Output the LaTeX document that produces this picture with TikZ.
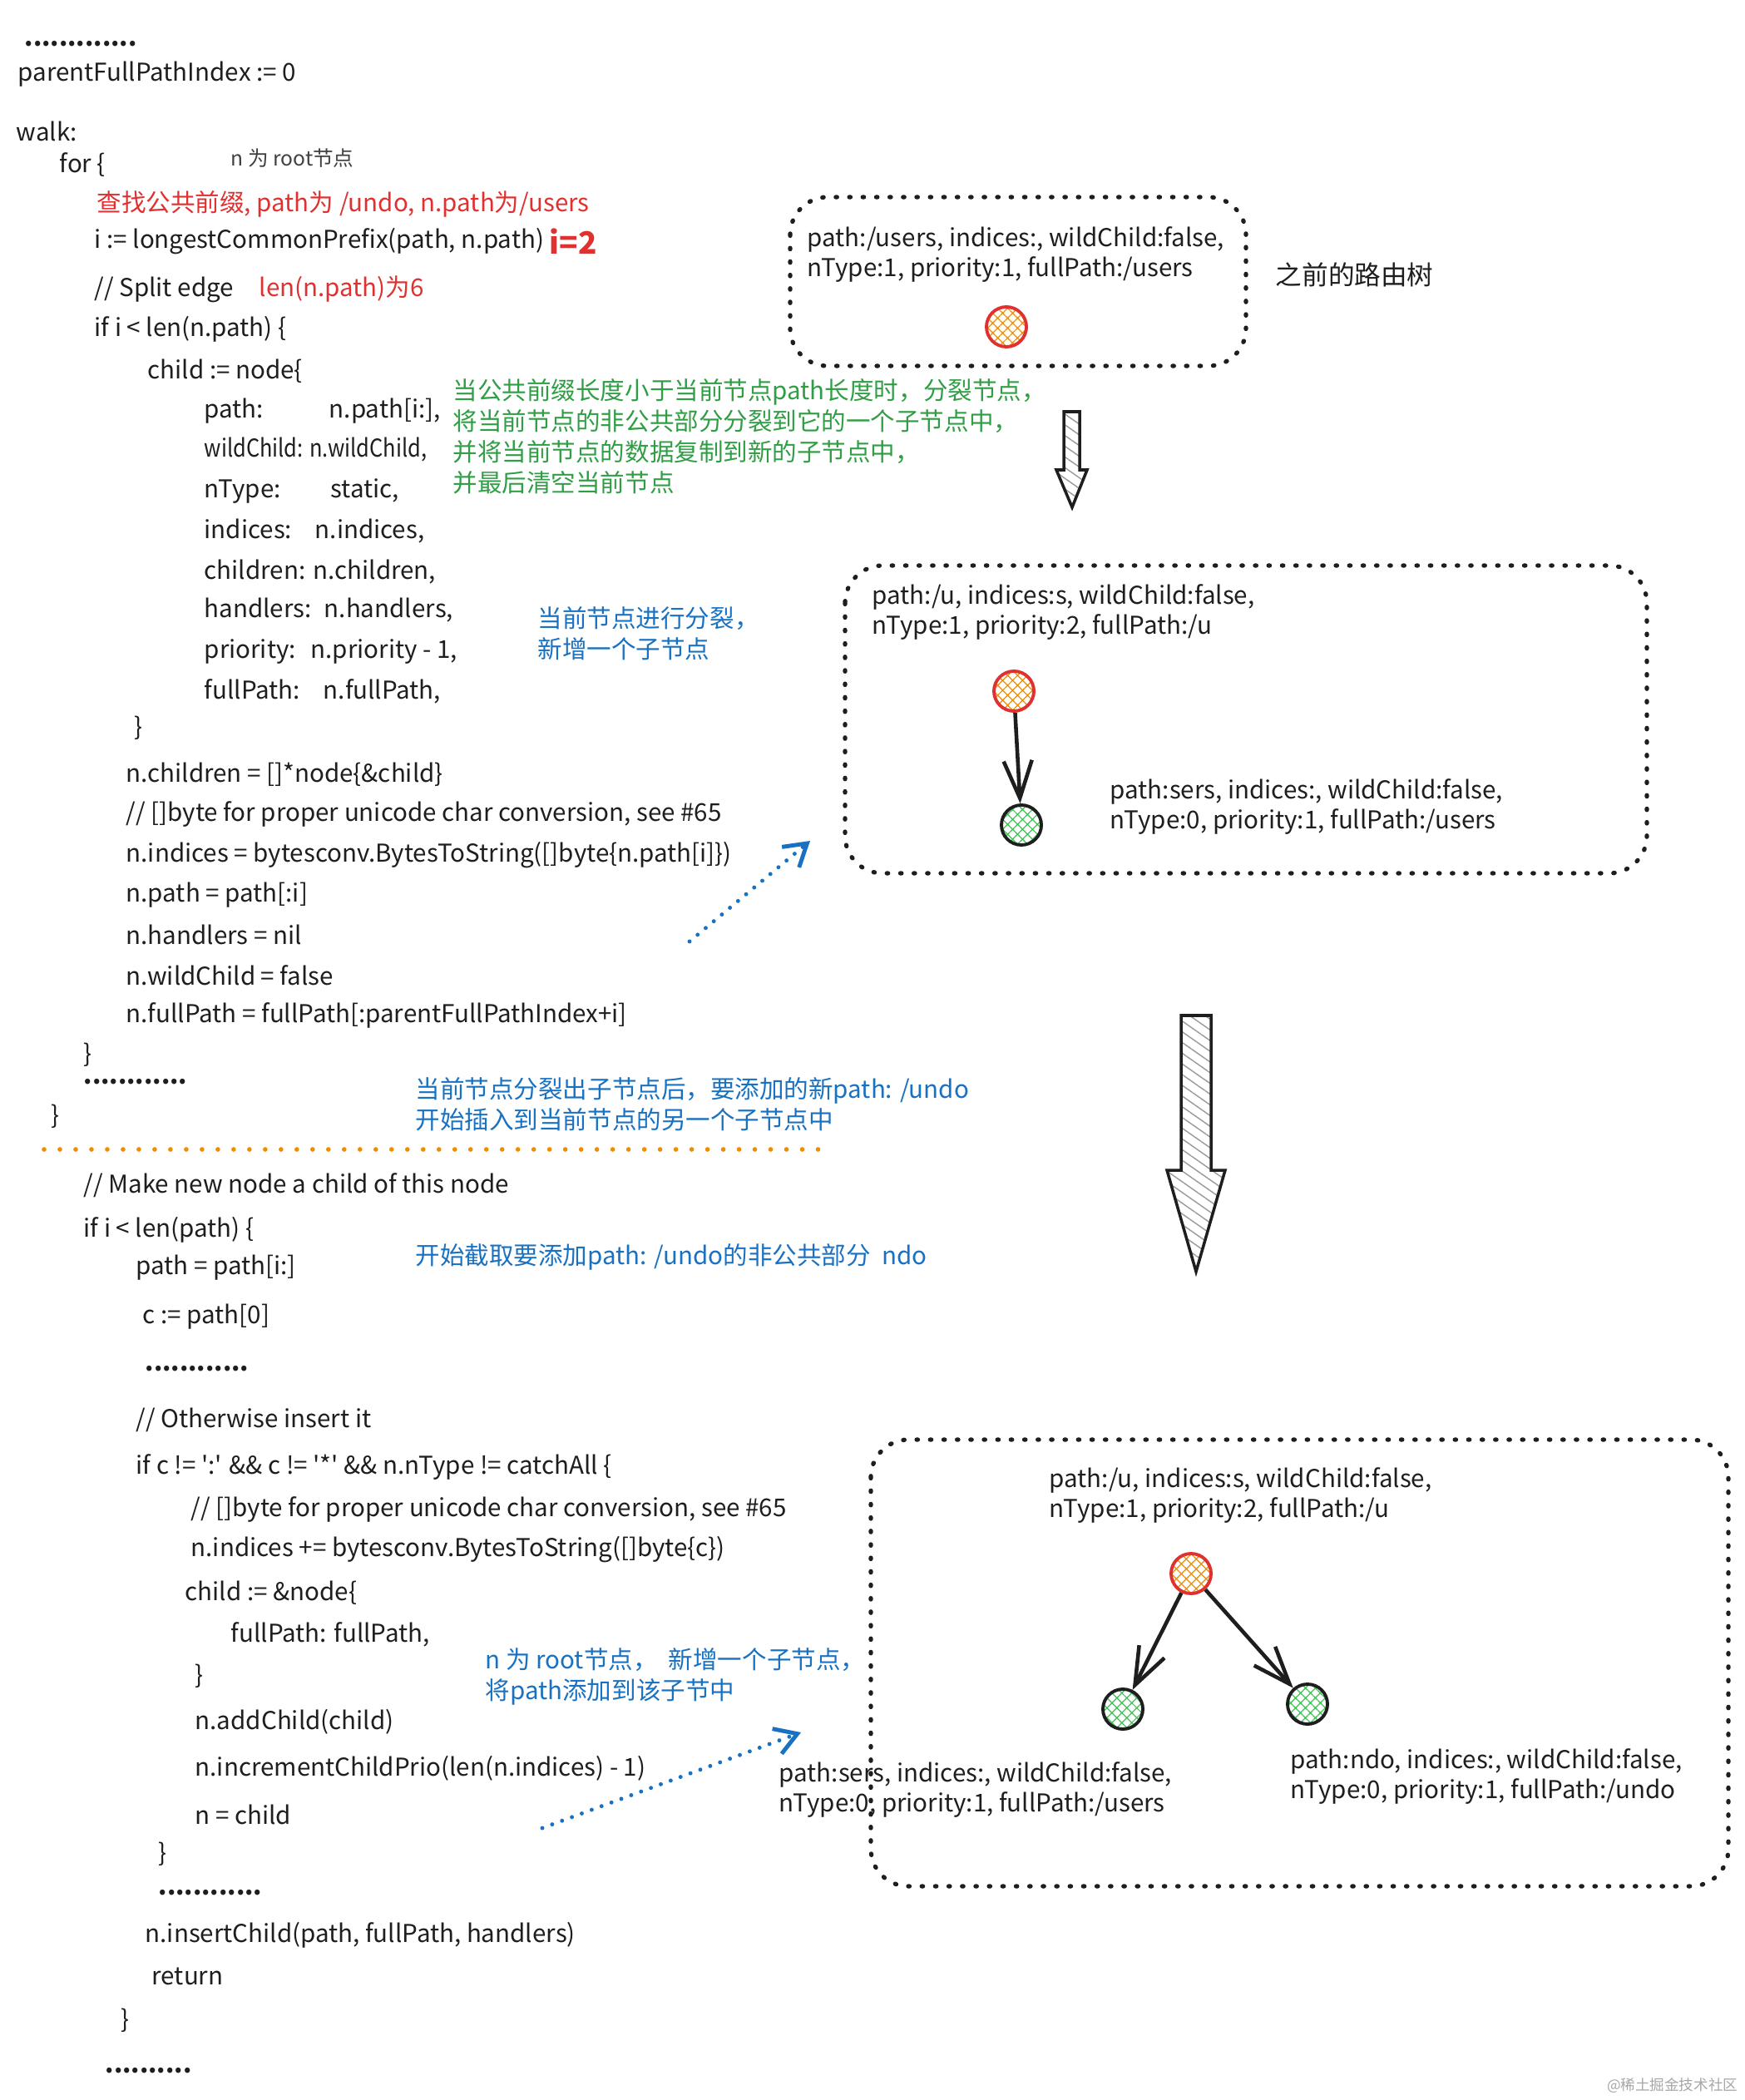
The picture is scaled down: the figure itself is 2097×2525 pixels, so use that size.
\documentclass[tikz,border=0pt]{standalone}
\usepackage{fontspec}
\usepackage{graphicx}
\setmainfont{Noto Sans CJK SC}
\usetikzlibrary{arrows.meta,patterns.meta,positioning}
\definecolor{exred}{HTML}{E03131}
\definecolor{exgreen}{HTML}{2F9E44}
\definecolor{exblue}{HTML}{1971C2}
\definecolor{exorange}{HTML}{F08C00}
\definecolor{exink}{HTML}{1E1E1E}
\definecolor{leafgreen}{HTML}{40C057}
\newcommand{\handfont}{\fontsize{8.4pt}{10.5pt}\selectfont}
\tikzset{
    code/.style={anchor=west, inner sep=0pt, font=\handfont, text=exink},
    note/.style={anchor=west, inner sep=0pt, font=\handfont, align=left},
    codedots/.style={code, font=\handfont\bfseries},
    treebox/.style={draw=exink, line width=1.5pt, dash pattern=on 0.4pt off 4.2pt,
        line cap=round, rounded corners=0.45cm},
    rootnode/.style={circle, draw=exred, line width=1.1pt, minimum size=0.48cm, inner sep=0pt,
        pattern={Hatch[angle=45,distance=2.4pt,line width=0.35pt]}, pattern color=exorange},
    leafnode/.style={circle, draw=exink, line width=1.1pt, minimum size=0.48cm, inner sep=0pt,
        pattern={Hatch[angle=45,distance=2.4pt,line width=0.35pt]}, pattern color=leafgreen},
    treeedge/.style={-{Straight Barb[length=4.5mm,width=3.4mm]}, line width=1.3pt, draw=exink},
    noteflow/.style={-{Straight Barb[length=2.6mm,width=3.2mm]}, draw=exblue, line width=1.4pt,
        dash pattern=on 0pt off 3.6pt, line cap=round},
    separator/.style={draw=exorange, line width=1.6pt, dash pattern=on 0pt off 5.4pt, line cap=round},
    bigarrow/.style={draw=exink, line width=1pt, line join=miter,
        pattern={Lines[angle=-35,distance=3pt,line width=0.4pt]}, pattern color=gray!80}
}

\begin{document}
\begin{tikzpicture}[x=0.01cm, y=-0.01cm]
    \useasboundingbox (0,0) rectangle (2097,2525);
    \fill[white] (0,0) rectangle (2097,2525);

    % code, first part
    \node[codedots] (dotsa) at (29,53) {.............};
    \node[code] (pfpi) at (21,89) {parentFullPathIndex := 0};
    \node[code] (walk) at (19,158) {walk:};
    \node[code] (forloop) at (71,198) {for \{};
    \node[code, font=\fontsize{7pt}{8pt}\selectfont, text=exink!85] (rootnote) at (277,190) {n 为 root节点};
    \node[note, text=exred] (prefixnote) at (116,245) {查找公共前缀, path为 /undo, n.path为/users};
    \node[code] (lcp) at (113,290) {i := longestCommonPrefix(path, n.path)};
    \node[note, text=exred, font=\fontsize{10.5pt}{12pt}\selectfont\bfseries] (itwo) at (660,290) {i=2};
    \node[code] (splitedge) at (113,348) {// Split edge};
    \node[note, text=exred] (lennote) at (311,348) {len(n.path)为6};
    \node[code] (ifsplit) at (113,396) {if i < len(n.path) \{};
    \node[code] (childnode) at (177,446) {child := node\{};
    \node[code] (fpath) at (245,494) {\makebox[1.5cm][l]{path:}n.path[i:],};
    \node[code] (fwild) at (245,541) {\scalebox{0.86}[1]{wildChild: n.wildChild,}};
    \node[code] (ftype) at (245,591) {\makebox[1.52cm][l]{nType:}static,};
    \node[code] (findices) at (245,639) {\makebox[1.33cm][l]{indices:}n.indices,};
    \node[code] (fchildren) at (245,688) {\makebox[1.31cm][l]{children:}n.children,};
    \node[code] (fhandlers) at (245,734) {\makebox[1.44cm][l]{handlers:}n.handlers,};
    \node[code] (fpriority) at (245,784) {\makebox[1.28cm][l]{priority:}n.priority - 1,};
    \node[code] (ffull) at (245,831) {\makebox[1.43cm][l]{fullPath:}n.fullPath,};
    \node[code] (childend) at (161,875) {\}};
    \node[code] (setchildren) at (151,931) {n.children = []*node\{\&child\}};
    \node[code] (bytenote) at (151,979) {// []byte for proper unicode char conversion, see \#65};
    \node[code] (setindices) at (151,1028) {n.indices = bytesconv.BytesToString([]byte\{n.path[i]\})};
    \node[code] (setpath) at (151,1076) {n.path = path[:i]};
    \node[code] (sethandlers) at (151,1124) {n.handlers = nil};
    \node[code] (setwild) at (151,1173) {n.wildChild = false};
    \node[code] (setfull) at (151,1221) {n.fullPath = fullPath[:parentFullPathIndex+i]};
    \node[code] (ifsplitend) at (100,1268) {\}};
    \node[codedots] (dotsb) at (100,1301) {............};
    \node[code] (forend) at (61,1342) {\}};

    % separator
    \coordinate (sepstart) at (53,1382);
    \coordinate (sepend) at (994,1382);
    \draw[separator] (sepstart) -- (sepend);

    % code, second part
    \node[code] (makenew) at (100,1425) {// Make new node a child of this node};
    \node[code] (ifinsert) at (100,1479) {if i < len(path) \{};
    \node[code] (cutpath) at (163,1524) {path = path[i:]};
    \node[code] (firstc) at (171,1583) {c := path[0]};
    \node[codedots] (dotsc) at (174,1646) {............};
    \node[code] (otherwise) at (163,1707) {// Otherwise insert it};
    \node[code] (ifstatic) at (163,1764) {if c != \textquotesingle:\textquotesingle{} \&\& c != \textquotesingle*\textquotesingle{} \&\& n.nType != catchAll \{};
    \node[code] (bytenoteb) at (229,1815) {// []byte for proper unicode char conversion, see \#65};
    \node[code] (addindices) at (229,1863) {n.indices += bytesconv.BytesToString([]byte\{c\})};
    \node[code] (newchild) at (222,1915) {child := \&node\{};
    \node[code] (newfull) at (277,1965) {fullPath: fullPath,};
    \node[code] (newchildend) at (234,2015) {\}};
    \node[code] (addchild) at (234,2070) {n.addChild(child)};
    \node[code] (incprio) at (234,2126) {n.incrementChildPrio(len(n.indices) - 1)};
    \node[code] (nchild) at (234,2182) {n = child};
    \node[code] (ifstaticend) at (190,2229) {\}};
    \node[codedots] (dotsd) at (190,2276) {............};
    \node[code] (insertchild) at (174,2327) {n.insertChild(path, fullPath, handlers)};
    \node[code] (return) at (182,2376) {return};
    \node[code] (ifinsertend) at (145,2429) {\}};
    \node[codedots] (dotse) at (126,2490) {..........};

    % notes
    \node[note, text=exgreen] (splitnote) at (544,525) {当公共前缀长度小于当前节点path长度时，分裂节点，\\
        将当前节点的非公共部分分裂到它的一个子节点中，\\
        并将当前节点的数据复制到新的子节点中，\\
        并最后清空当前节点};
    \node[note, text=exblue] (splitnoteb) at (646,762) {当前节点进行分裂，\\新增一个子节点};
    \node[note, text=exblue] (undonote) at (499,1328) {当前节点分裂出子节点后，要添加的新path: /undo\\
        开始插入到当前节点的另一个子节点中};
    \node[note, text=exblue] (cutnote) at (499,1511) {开始截取要添加path: /undo的非公共部分\ \ ndo};
    \node[note, text=exblue] (addnote) at (583,2016) {n 为 root节点，\ \ 新增一个子节点，\\将path添加到该子节中};

    % tree before
    \draw[treebox] (950,237) rectangle (1498,440);
    \node[note, text=exink] (userstext) at (970,306) {path:/users, indices:, wildChild:false,\\nType:1, priority:1, fullPath:/users};
    \node[rootnode] (users) at (1210,393) {};
    \node[note, text=exink, font=\fontsize{9pt}{11pt}\selectfont] (beforelabel) at (1533,330) {之前的路由树};
    \draw[bigarrow] (1279,495) -- (1298,495) -- (1298,565) -- (1307,565) -- (1289,610)
        -- (1270,565) -- (1279,565) -- cycle;

    % tree after split
    \draw[treebox] (1016,680) rectangle (1980,1050);
    \node[note, text=exink] (utext) at (1048,736) {path:/u, indices:s, wildChild:false,\\nType:1, priority:2, fullPath:/u};
    \node[rootnode] (u) at (1219,831) {};
    \node[leafnode] (sers) at (1228,992) {};
    \node[note, text=exink] (serstext) at (1334,970) {path:sers, indices:, wildChild:false,\\nType:0, priority:1, fullPath:/users};
    \draw[treeedge] (u) -- (sers);
    \coordinate (splittail) at (829,1132);
    \coordinate (splithead) at (974,1011);
    \draw[noteflow] (splittail) -- (splithead);

    \draw[bigarrow] (1420,1221) -- (1456,1221) -- (1456,1407) -- (1473,1407) -- (1438,1529)
        -- (1403,1407) -- (1420,1407) -- cycle;

    % tree after insert
    \draw[treebox] (1047,1731) rectangle (2078,2268);
    \node[note, text=exink] (utextb) at (1261,1798) {path:/u, indices:s, wildChild:false,\\nType:1, priority:2, fullPath:/u};
    \node[rootnode] (ub) at (1432,1892) {};
    \node[leafnode] (sersb) at (1350,2055) {};
    \node[leafnode] (ndo) at (1572,2049) {};
    \draw[treeedge] (ub) -- (sersb);
    \draw[treeedge] (ub) -- (ndo);
    \node[note, text=exink] (serstextb) at (936,2152) {path:sers, indices:, wildChild:false,\\nType:0, priority:1, fullPath:/users};
    \node[note, text=exink] (ndotext) at (1551,2136) {path:ndo, indices:, wildChild:false,\\nType:0, priority:1, fullPath:/undo};
    \coordinate (addtail) at (652,2198);
    \coordinate (addhead) at (963,2083);
    \draw[noteflow] (addtail) -- (addhead);

    \node[anchor=east, inner sep=0pt, font=\fontsize{5pt}{6pt}\selectfont, text=gray!70] (mark) at (2090,2508) {@稀土掘金技术社区};
\end{tikzpicture}
\end{document}
